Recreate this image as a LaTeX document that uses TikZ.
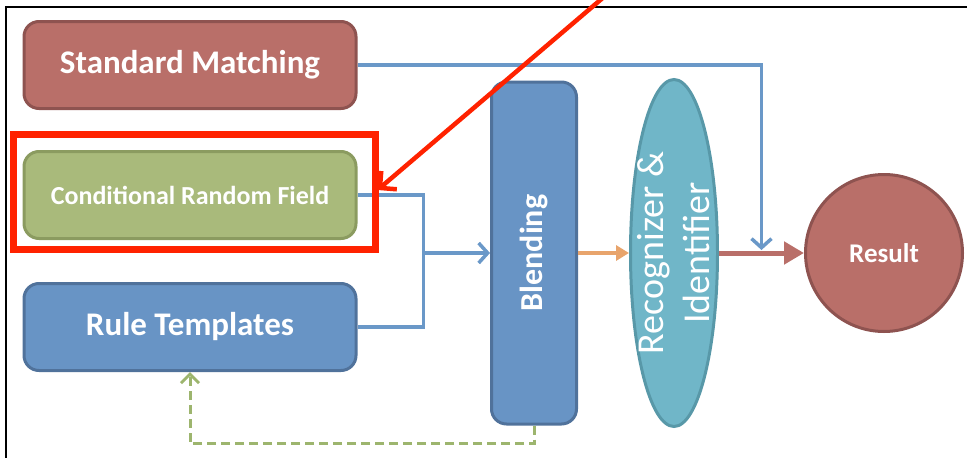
\documentclass[tikz,border=0pt]{standalone}
\usepackage{fontspec}
\setmainfont{Carlito}
\usetikzlibrary{arrows.meta,calc,positioning,shapes.geometric}

\definecolor{smfill}{HTML}{B96F69}
\definecolor{smline}{HTML}{8E5350}
\definecolor{crffill}{HTML}{A9BA7B}
\definecolor{crfline}{HTML}{8B9B60}
\definecolor{bluefill}{HTML}{6894C5}
\definecolor{blueline}{HTML}{50729B}
\definecolor{recfill}{HTML}{70B6C8}
\definecolor{recline}{HTML}{5898A8}
\definecolor{flowblue}{HTML}{6A98C8}
\definecolor{floworange}{HTML}{E8A46C}
\definecolor{markred}{HTML}{FF2200}
\definecolor{dashgreen}{HTML}{9DB56E}

\tikzset{%
	block/.style    = {draw, rectangle, rounded corners=15pt, line width=3pt, minimum width=332pt, minimum height=87pt, text=white, font=\bfseries\fontsize{33}{38}\selectfont},
	tallblock/.style= {block, minimum width=85pt, minimum height=342pt, fill=bluefill, draw=blueline, font=\bfseries\fontsize{32}{36}\selectfont},
	oval/.style     = {draw, ellipse, line width=3pt, minimum width=87pt, minimum height=347pt, inner sep=0pt, fill=recfill, draw=recline},
	ovaltext/.style = {rotate=90, align=center, text=white, font=\fontsize{38}{46}\selectfont}, % Text inside oval
	result/.style   = {draw, circle, line width=3pt, minimum size=157pt, fill=smfill, draw=smline, text=white, font=\bfseries\fontsize{27}{30}\selectfont},
	frame/.style    = {line width=2pt, black},
}
\tikzset{%
	flow/.style     = {line width=3.5pt, flowblue, -{Straight Barb[length=9pt,width=20pt]}},
	plainflow/.style= {line width=3.5pt, flowblue},
	orangeflow/.style = {line width=3.5pt, floworange, -{Triangle[length=13pt,width=15pt]}},
	redflow/.style  = {line width=5pt, smfill, -{Triangle[length=20pt,width=22pt]}},
	feedback/.style = {line width=3pt, dashgreen, dash pattern=on 9pt off 5pt, -{Straight Barb[length=9pt,width=18pt]}},
	markbox/.style  = {line width=7pt, markred},
	markarrow/.style= {line width=4.5pt, markred, -{Straight Barb[length=12pt,width=24pt]}},
}

\begin{document}
\begin{tikzpicture}[x=1pt,y=1pt,node distance=40pt]
	\useasboundingbox (0,0) rectangle (967,-458);
	\draw[frame] (6,-458) -- (6,-7) -- (967,-7);
	
	\node [block,fill=smfill,draw=smline] (sm) at (190,-65) {Standard Matching};
	\node [block,fill=crffill,draw=crfline,font=\bfseries\fontsize{26}{30}\selectfont] (crf) [below=of sm] {Conditional Random Field};
	\node [block,fill=bluefill,draw=blueline] (rt) [below=42pt of crf] {Rule Templates};
	\node [tallblock] (blend) at (534,-253) {\rotatebox{90}{Blending}};
	\node [oval] (recog) [right=51pt of blend] {};
	\node [ovaltext] (recogtext) at (recog) {Recognizer \&\\Identifier};
	\node [result] (res) [right=85pt of recog] {Result};
	
	\coordinate (join) at ($(crf.east)+(66,-58)$);
	\coordinate (mid) at ($(recog.east)!0.5!(res.west)$);
	
	\draw[plainflow] (crf.east) -| (join) |- (rt.east);
	\draw[flow] (join) -- (blend.west);
	\draw[flow] (sm.east) -| ([yshift=3pt]mid);
	\draw[orangeflow] (blend.east) -- (recog.west);
	\draw[redflow] (recog.east) -- (res.west);
	\draw[feedback] (blend.south) -- ++(0,-18) -| (rt.south);
	
	% highlight
	\coordinate (pin) at ($(crf.east)+(20,5)$);
	\coordinate (pintail) at (605,4);
	\draw[markbox] ($(crf.north west)+(-9,16)$) rectangle ($(crf.south east)+(18,-9)$);
	\draw[markarrow] (pintail) -- (pin);
\end{tikzpicture}
\end{document}
